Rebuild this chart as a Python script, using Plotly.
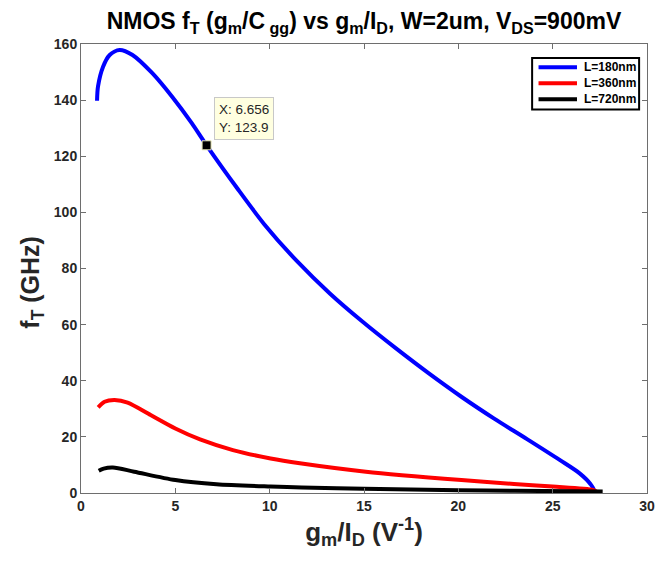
import plotly.graph_objects as go

# gm/ID (1/V) and fT (GHz) for each channel length
gmid_180 = [0.85, 0.90, 1.17, 1.52, 2.04, 2.73, 3.78, 4.83, 5.87, 6.656, 8.30, 9.71,
            11.45, 13.19, 14.93, 16.68, 18.42, 20.16, 21.90, 23.64, 25.39, 26.43,
            27.00, 27.20, 26.00, 24.30]
ft_180 = [139.8, 144.8, 151.9, 156.1, 157.9, 156.1, 149.6, 141.2, 131.8, 123.9, 108.4, 95.8,
          82.6, 71.1, 61.0, 51.6, 42.7, 34.3, 26.5, 19.2, 11.7, 7.0,
          3.2, 0.6, 0.05, 0.0]

gmid_360 = [0.91, 1.25, 1.78, 2.47, 3.69, 5.00, 6.31, 8.05, 10.05, 11.60, 15.10, 20.16,
            22.95, 25.00, 27.13, 27.30, 26.20, 25.00]
ft_360 = [30.5, 32.5, 33.1, 32.2, 27.8, 23.0, 19.1, 15.3, 12.3, 10.6, 7.6, 4.6,
          3.2, 2.3, 1.1, 0.5, 0.05, 0.0]

gmid_720 = [0.94, 1.20, 1.69, 2.82, 5.00, 7.18, 10.05, 11.70, 15.00, 20.00, 23.00, 27.65]
ft_720 = [7.9, 8.7, 9.1, 7.6, 4.6, 3.1, 2.3, 2.0, 1.5, 1.0, 0.8, 0.5]

series_names = ["L=180nm", "L=360nm", "L=720nm"]
series_colors = ["#0000ff", "#ff0000", "#000000"]

# data cursor
tip_x = 6.656
tip_y = 123.9

x_ticks = [0, 5, 10, 15, 20, 25, 30]
y_ticks = [0, 20, 40, 60, 80, 100, 120, 140, 160]

FONT = "Liberation Sans"
AX_COLOR = "#262626"
W, H = 665, 562
M_L, M_R, M_T, M_B = 81, 10, 44, 69


def px_to_paper(px, py):
    """Convert a page pixel position into paper coordinates of the plot area."""
    return ((px - M_L) / (W - M_L - M_R), (H - M_B - py) / (H - M_T - M_B))


fig = go.Figure()
for gx, fy, name, col in zip([gmid_180, gmid_360, gmid_720],
                             [ft_180, ft_360, ft_720],
                             series_names, series_colors):
    fig.add_trace(go.Scatter(
        x=gx, y=fy, mode="lines", name=name, showlegend=False,
        line=dict(color=col, width=4, shape="spline", smoothing=0.8),
        hoverinfo="skip",
    ))

fig.add_trace(go.Scatter(
    x=[tip_x], y=[tip_y], mode="markers", showlegend=False,
    marker=dict(symbol="square", size=9, color="black",
                line=dict(color="#e8e8b8", width=1)),
    hoverinfo="skip",
))

fig.add_annotation(
    x=tip_x, y=tip_y, xref="x", yref="y",
    text="X: %.3f<br>Y: %.1f" % (tip_x, tip_y),
    showarrow=False, xanchor="left", yanchor="bottom",
    xshift=7, yshift=5, align="left",
    font=dict(family=FONT, size=13.5, color="#262626"),
    bgcolor="#ffffe0", bordercolor="#c8c8c8", borderwidth=1, borderpad=4,
)

# legend box (MATLAB-style, compact rows)
bx0, by0 = px_to_paper(538.5, 58)
bx1, by1 = px_to_paper(647, 109.5)
fig.add_shape(type="rect", xref="paper", yref="paper",
              x0=bx0, x1=bx1, y0=by1, y1=by0,
              line=dict(color="black", width=2), fillcolor="white", layer="above")
for i, (name, col) in enumerate(zip(series_names, series_colors)):
    row_y = 67.3 + 16 * i
    lx0, ly = px_to_paper(545, row_y)
    lx1, _ = px_to_paper(584, row_y)
    tx, _ = px_to_paper(589, row_y)
    fig.add_shape(type="line", xref="paper", yref="paper",
                  x0=lx0, x1=lx1, y0=ly, y1=ly,
                  line=dict(color=col, width=4), layer="above")
    fig.add_annotation(x=tx, y=ly, xref="paper", yref="paper", text=name,
                       showarrow=False, xanchor="left", yanchor="middle",
                       font=dict(family=FONT, size=12, color="black", weight="bold"))

# y-axis label
ylx, yly = px_to_paper(31, 282)
fig.add_annotation(x=ylx, y=yly, xref="paper", yref="paper",
                   text="f<sub>T</sub> (GHz)", textangle=-90, showarrow=False,
                   xanchor="center", yanchor="middle",
                   font=dict(family=FONT, size=25, color=AX_COLOR, weight="bold"))

axis_common = dict(
    showline=True, mirror="ticks", linecolor="#6e6e6e", linewidth=1,
    ticks="inside", ticklen=5, tickwidth=1, tickcolor="#6e6e6e",
    showgrid=False, zeroline=False,
    tickfont=dict(family=FONT, size=14, color=AX_COLOR, weight="bold"),
)

fig.update_xaxes(
    range=[0, 30], tickvals=x_ticks,
    title=dict(text="g<sub>m</sub>/I<sub>D</sub> (V<sup>-1</sup>)",
               font=dict(family=FONT, size=26, color=AX_COLOR, weight="bold"),
               standoff=8),
    **axis_common,
)
fig.update_yaxes(range=[0, 160], tickvals=y_ticks, **axis_common)

fig.update_layout(
    width=W, height=H,
    margin=dict(l=M_L, r=M_R, t=M_T, b=M_B),
    paper_bgcolor="white", plot_bgcolor="white",
    title=dict(
        text="NMOS f<sub>T</sub> (g<sub>m</sub>/C<sub> gg</sub>) vs g<sub>m</sub>/I<sub>D</sub>, "
             "W=2um, V<sub>DS</sub>=900mV",
        x=0.5, xref="paper", xanchor="center",
        y=1 - 21 / H, yref="container", yanchor="middle",
        font=dict(family=FONT, size=23, color="black", weight="bold"),
    ),
    showlegend=False,
)

fig.write_html("out.html")
